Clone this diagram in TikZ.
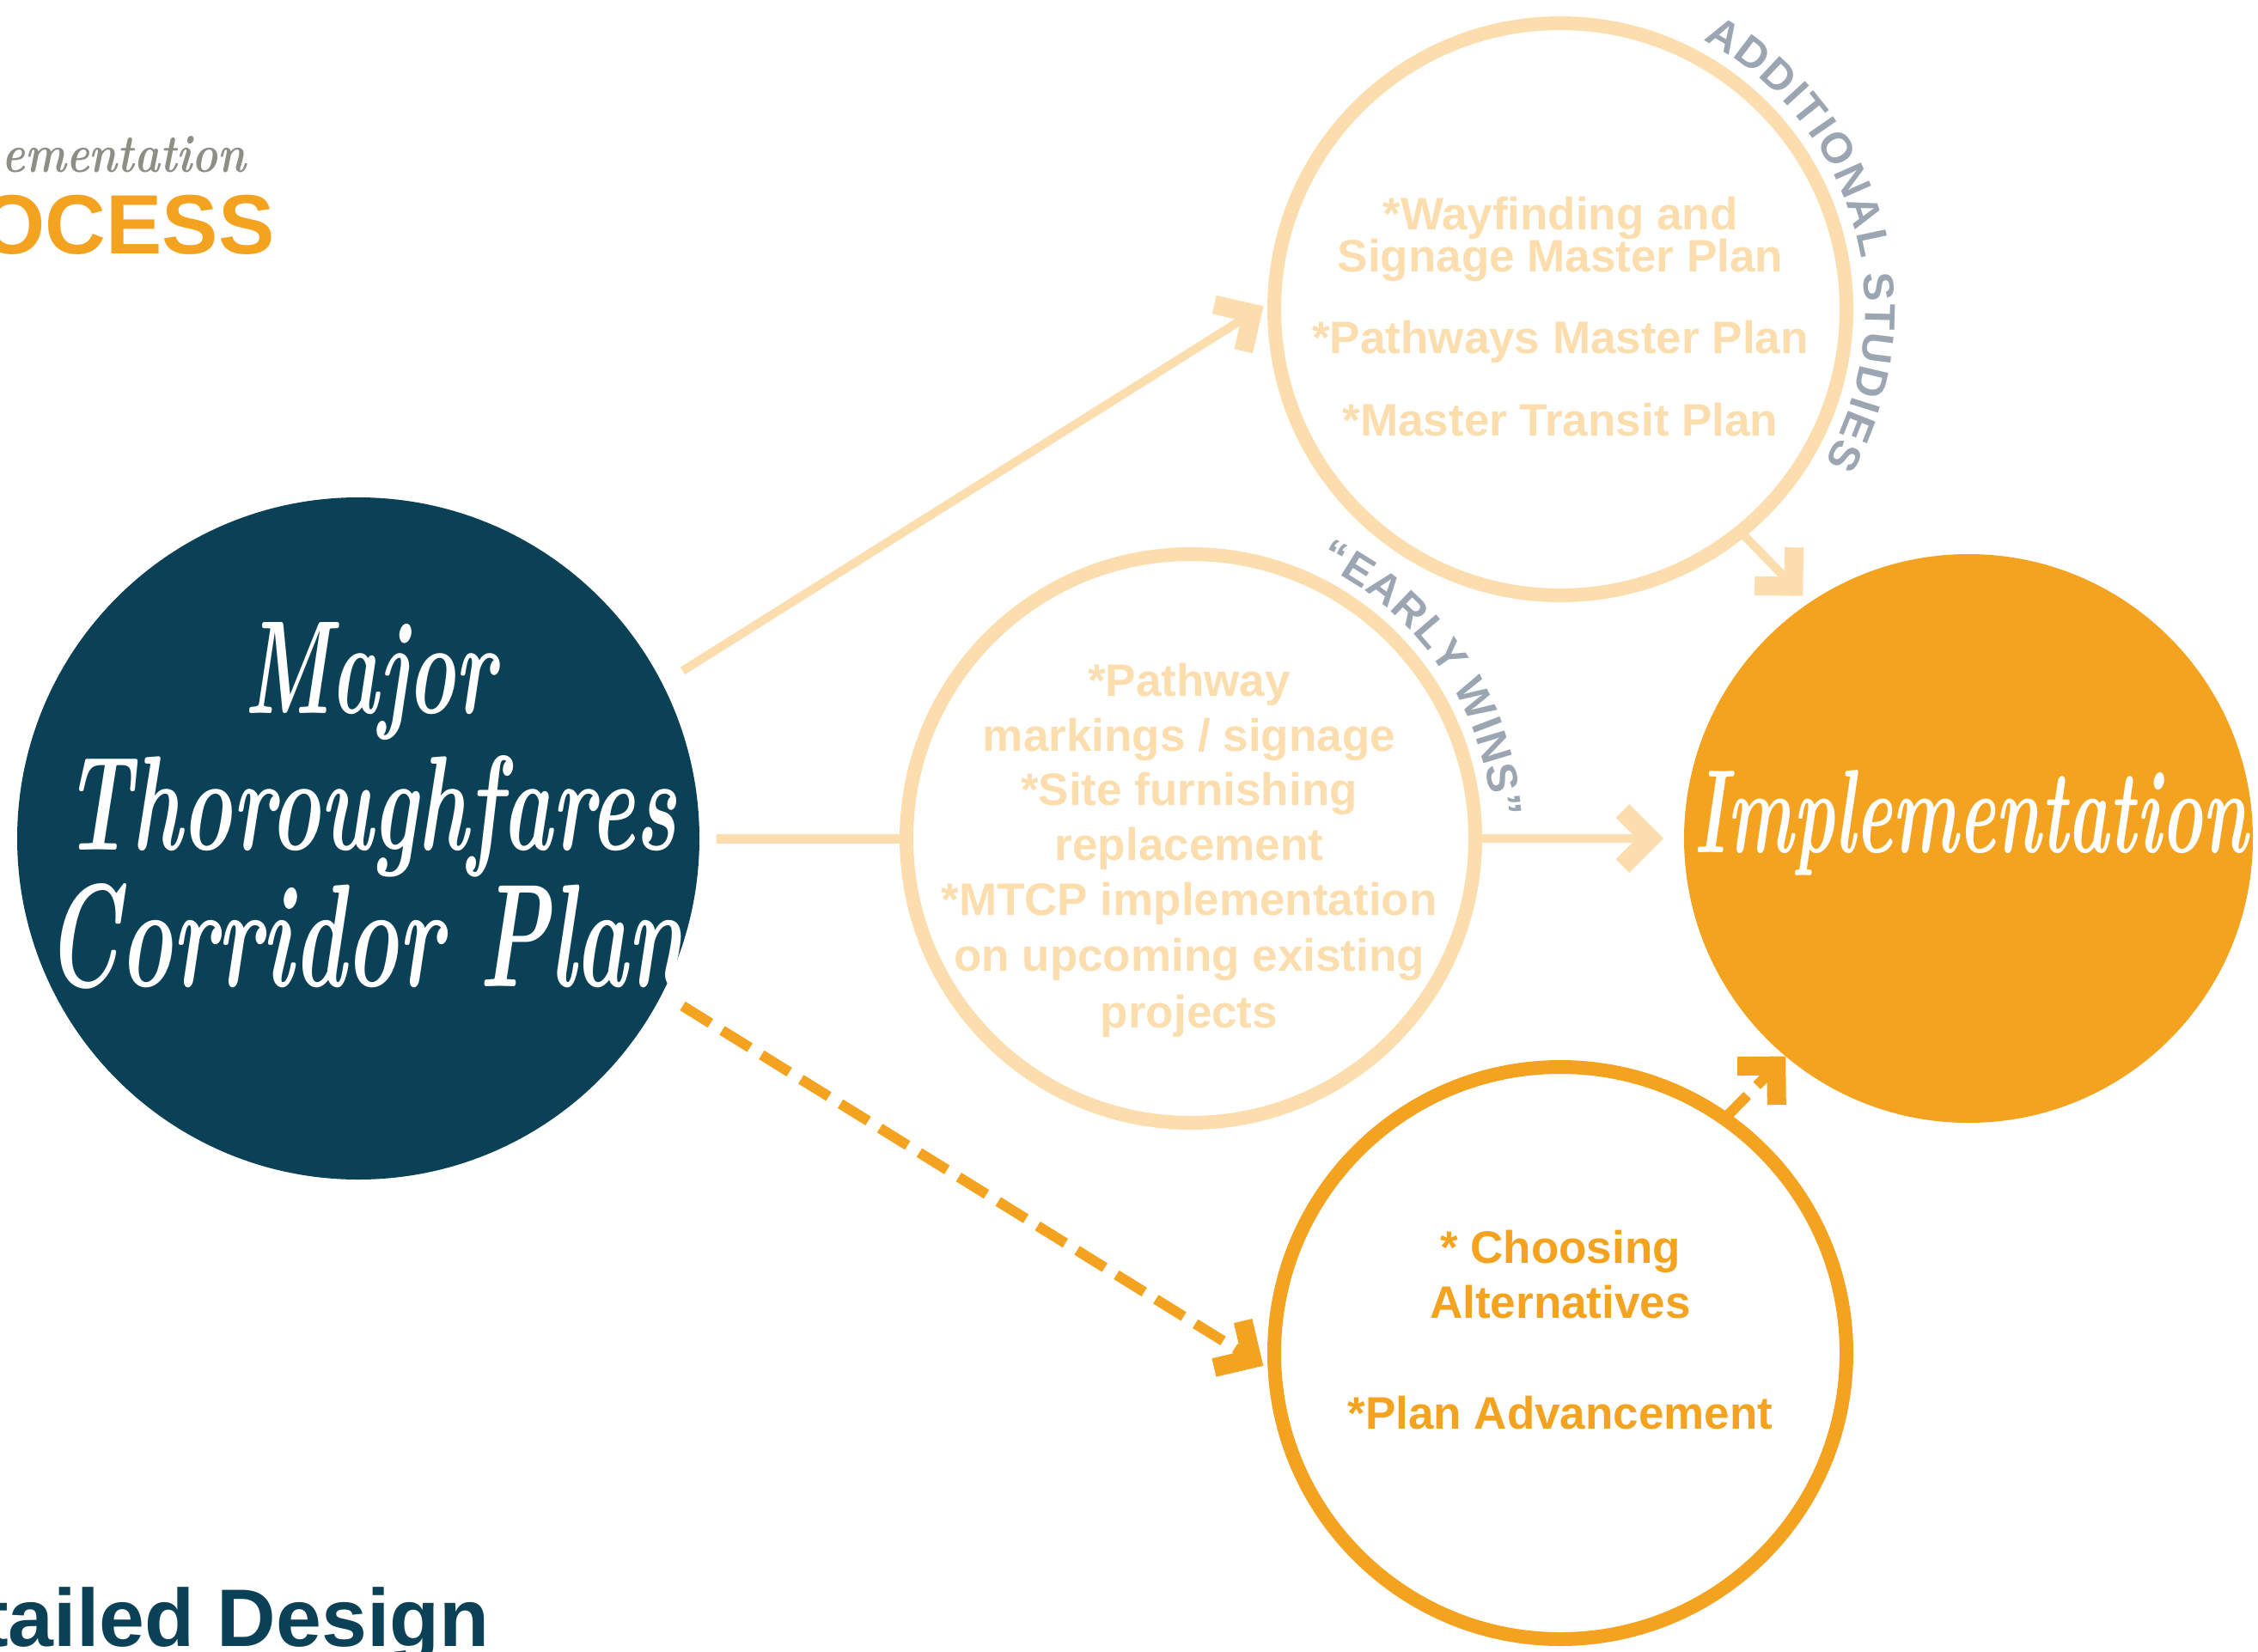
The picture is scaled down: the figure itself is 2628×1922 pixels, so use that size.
\documentclass[tikz,border=0pt]{standalone}
\usepackage{fontspec}
\setmainfont{Liberation Sans}
\usetikzlibrary{arrows.meta,calc,decorations.text}
\definecolor{navy}{RGB}{11,65,87}
\definecolor{orng}{RGB}{244,163,33}
\definecolor{peach}{RGB}{252,221,174}
\definecolor{slate}{RGB}{155,166,178}
\definecolor{brushgray}{RGB}{142,142,132}
\newfontfamily\handfont{Latin Modern Roman}
\newcommand\brush[3]{\resizebox{#1}{#2}{\handfont\bfseries\itshape #3}}
\tikzset{
  disk/.style={circle, inner sep=0pt, outer sep=0pt, minimum size=#1},
  ring/.style={circle, inner sep=0pt, outer sep=0pt, minimum size=#1, line width=8pt},
  body/.style={font=\fontsize{26.5}{30}\selectfont\bfseries, inner sep=0pt, anchor=base},
  peachtxt/.style={body, text=peach},
  orngtxt/.style={body, text=orng},
  scripttxt/.style={inner sep=0pt, anchor=base, text=white},
  tipbar/.style={-{Straight Barb[sharp, length=16pt, width=32pt, line width=11pt]}},
  peacharrow/.style={draw=peach, line width=5pt, tipbar},
  peachline/.style={draw=peach, line width=5.5pt},
  orngdash/.style={draw=orng, line width=6pt, dash pattern=on 19pt off 8pt, tipbar},
  arcword/.style={decorate, decoration={text along path, text align={fit to path}, text color=slate}}
}
\begin{document}
\begin{tikzpicture}[x=0.5pt, y=-0.5pt]
\useasboundingbox (0,0) rectangle (2628,1922);
% circles
\node[disk=397pt, fill=navy] (main) at (417,976) {};
\node[ring=333pt, draw=peach] (top) at (1816,360) {};
\node[ring=331pt, draw=peach] (mid) at (1386,976) {};
\node[disk=331pt, fill=orng] (impl) at (2291,976) {};
\node[ring=333pt, draw=orng] (bot) at (1816,1575) {};
% connectors
\draw[peacharrow] ($(main.27.5)!14pt!(top.178.7)$) -- ($(top.178.7)!7.5pt!(main.27.5)$);
\draw[peachline] ($(main.0)!10pt!(mid.180)$) -- (mid.180);
\draw[peacharrow] (mid.0) -- ($(impl.180)!12pt!(mid.0)$);
\draw[peacharrow] (top.-51.7) -- ($(impl.124.8)!5.5pt!(top.-51.7)$);
\draw[orngdash] ($(main.-27.6)!14pt!(bot.184.9)$) -- ($(bot.184.9)!8pt!(main.-27.6)$);
\draw[orngdash] (bot.55.3) -- (impl.-130.1);
% curved labels
\path[arcword, decoration={text={|\fontsize{25}{25}\selectfont\bfseries|ADDITIONAL STUDIES}}]
  ($(top.center)+(-62:355)$) arc[start angle=-62, end angle=30, radius=355];
\path[arcword, decoration={text={|\fontsize{25}{25}\selectfont\bfseries|“EARLY WINS”}}]
  ($(mid.center)+(-65:352)$) arc[start angle=-65, end angle=-4, radius=352];
% top circle text
\node[peachtxt] (a1) at (1816,267) {*Wayfinding and};
\node[peachtxt] (a2) at (1816,316) {Signage Master Plan};
\node[peachtxt] (a3) at (1816,411) {*Pathways Master Plan};
\node[peachtxt] (a4) at (1816,507) {*Master Transit Plan};
% middle circle text
\node[peachtxt] (m1) at (1384,810) {*Pathway};
\node[peachtxt] (m2) at (1384,874) {markings / signage};
\node[peachtxt] (m3) at (1384,937) {*Site furnishing};
\node[peachtxt] (m4) at (1384,1001) {replacement};
\node[peachtxt] (m5) at (1384,1065) {*MTCP implementation};
\node[peachtxt] (m6) at (1384,1130) {on upcoming existing};
\node[peachtxt] (m7) at (1384,1196) {projects};
% bottom circle text
\node[orngtxt] (b1) at (1816,1470) {* Choosing};
\node[orngtxt] (b2) at (1816,1534) {Alternatives};
\node[orngtxt] (b3) at (1816,1663) {*Plan Advancement};
% script titles
\node[scripttxt] (major) at (431,830) {\brush{146pt}{53pt}{Major}};
\node[scripttxt] (thoro) at (431,989) {\brush{356pt}{55pt}{Thoroughfares}};
\node[scripttxt] (corr) at (426,1148) {\brush{372pt}{60pt}{Corridor Plan}};
\node[scripttxt] (impltxt) at (2294,992) {\brush{322pt}{48pt}{Implementation}};
% page corner texts
\node[inner sep=0pt, anchor=base west, text=brushgray] (hdr1) at (2,200) {\brush{142pt}{21pt}{ementation}};
\node[inner sep=0pt, anchor=base east, text=orng, font=\fontsize{49}{50}\selectfont\bfseries] (hdr2) at (320,295) {OCESS};
\node[inner sep=0pt, anchor=base east, text=navy, font=\fontsize{47.5}{48}\selectfont\bfseries] (hdr3) at (570,1916) {tailed Design};
\end{tikzpicture}
\end{document}
